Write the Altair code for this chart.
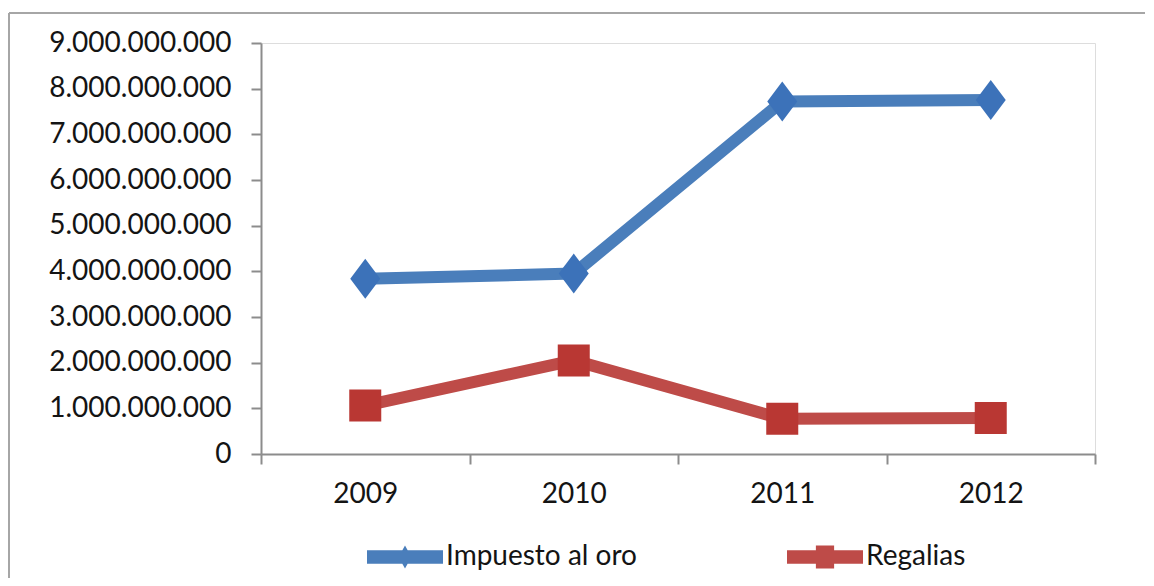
import altair as alt
import pandas as pd

years = ["2009", "2010", "2011", "2012"]
impuesto_al_oro = [3840000000, 3950000000, 7720000000, 7750000000]
regalias = [1060000000, 2050000000, 770000000, 790000000]
series_names = ["Impuesto al oro", "Regalias"]
y_ticks = [0, 1000000000, 2000000000, 3000000000, 4000000000,
           5000000000, 6000000000, 7000000000, 8000000000, 9000000000]

line_colors = ["#4A7EBB", "#BE4B48"]
marker_colors = ["#3C72B9", "#B93733"]

rows = []
for name, vals in zip(series_names, [impuesto_al_oro, regalias]):
    for yr, v in zip(years, vals):
        rows.append({"Año": yr, "Valor": v, "Serie": name})
df = pd.DataFrame(rows)

FONT = "Lato"
AXIS_GRAY = "#8c8c8c"
TEXT = "#141414"

DIAMOND = "M0,-1L0.75,0L0,1L-0.75,0Z"
SQUARE = "M-0.8,-0.8L0.8,-0.8L0.8,0.8L-0.8,0.8Z"
LEG_BLUE = "M-1,-0.18L1,-0.18L1,0.18L-1,0.18Z M0,-0.3L0.17,0L0,0.3L-0.17,0Z"
LEG_RED = "M-1,-0.18L1,-0.18L1,0.18L-1,0.18Z M-0.24,-0.3L0.24,-0.3L0.24,0.3L-0.24,0.3Z"

x_enc = alt.X(
    "Año:O",
    scale=alt.Scale(type="band", paddingInner=0, paddingOuter=0, domain=years),
    bandPosition=0.5,
    axis=alt.Axis(title=None, tickBand="extent", labelAngle=0, labelPadding=16,
                  labelFont=FONT, labelFontSize=28, labelColor=TEXT, labelLimit=0,
                  domainColor=AXIS_GRAY, domainWidth=2, tickColor=AXIS_GRAY,
                  tickWidth=2, tickSize=10, grid=False),
)
y_enc = alt.Y(
    "Valor:Q",
    scale=alt.Scale(domain=[0, 9000000000], nice=False, zero=True),
    axis=alt.Axis(title=None, values=y_ticks, format=",d", grid=False,
                  labelPadding=20, labelFont=FONT, labelFontSize=28, labelColor=TEXT,
                  labelLimit=0,
                  domainColor=AXIS_GRAY, domainWidth=2, tickColor=AXIS_GRAY,
                  tickWidth=2, tickSize=10),
)

legend = alt.Legend(
    title=None, orient="none", legendX=106, legendY=476, direction="horizontal",
    symbolSize=5776, labelFont=FONT, labelFontSize=28, labelColor=TEXT,
    labelLimit=0, labelOffset=3, columnPadding=150, padding=0, symbolOpacity=1,
    symbolStrokeWidth=0,
)

frame_df = pd.DataFrame({"f": [0]})
frame_top = alt.Chart(frame_df).mark_rule(stroke="#a6a6a6", strokeWidth=2).encode(
    x=alt.value(-252), x2=alt.value(884), y=alt.value(-30)
)
frame_left = alt.Chart(frame_df).mark_rule(stroke="#a6a6a6", strokeWidth=2).encode(
    x=alt.value(-252), y=alt.value(-30), y2=alt.value(540)
)

lines = alt.Chart(df).mark_line(strokeWidth=12, strokeJoin="round").encode(
    x=x_enc, y=y_enc,
    color=alt.Color("Serie:N", scale=alt.Scale(domain=series_names, range=line_colors),
                    legend=None),
)

points = alt.Chart(df).mark_point(filled=True, size=1600, opacity=1).encode(
    x=x_enc, y=y_enc,
    color=alt.Color("Serie:N", scale=alt.Scale(domain=series_names, range=marker_colors),
                    legend=None),
    shape=alt.Shape("Serie:N", scale=alt.Scale(domain=series_names, range=[DIAMOND, SQUARE]),
                    legend=None),
)

legend_layer = alt.Chart(df).mark_point(filled=True, opacity=0, strokeWidth=0).encode(
    x=x_enc, y=y_enc,
    color=alt.Color("Serie:N", scale=alt.Scale(domain=series_names, range=line_colors),
                    legend=legend),
    shape=alt.Shape("Serie:N", scale=alt.Scale(domain=series_names, range=[LEG_BLUE, LEG_RED]),
                    legend=legend),
)

chart = alt.layer(frame_top, frame_left, lines, points, legend_layer).resolve_scale(
    color="independent", shape="independent"
).properties(
    width=834, height=411,
    autosize=alt.AutoSizeParams(type="none"),
    padding={"left": 253, "top": 35, "right": 51, "bottom": 124},
).configure_view(stroke=None).configure(
    locale={"number": {"decimal": ",", "thousands": ".", "grouping": [3], "currency": ["", ""]}}
)

chart.save("out.html", embed_options={"renderer": "svg", "actions": False})
